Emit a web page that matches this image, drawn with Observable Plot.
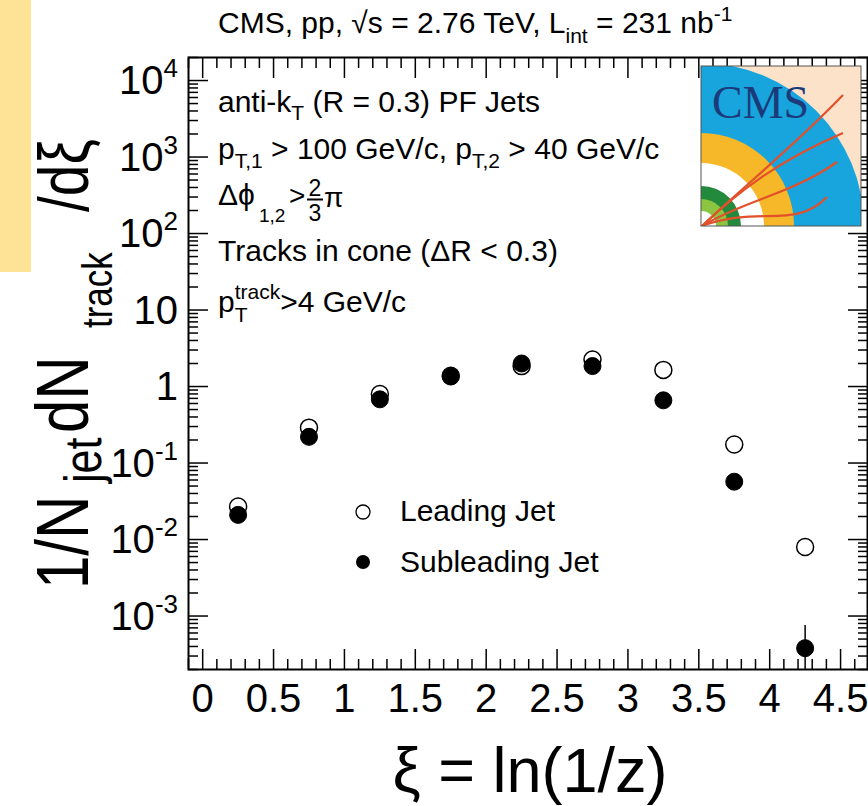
<!DOCTYPE html>
<html><head><meta charset="utf-8">
<script src="https://cdn.jsdelivr.net/npm/d3@7"></script>
<script src="https://cdn.jsdelivr.net/npm/@observablehq/plot@0.6"></script>
<style>
html,body{margin:0;padding:0;background:#fff;}
#wrap{position:relative;width:868px;height:806px;overflow:hidden;}
</style></head><body><div id="wrap"></div>
<script>
// ---- data ----
const xi = [0.25, 0.75, 1.25, 1.75, 2.25, 2.75, 3.25, 3.75, 4.25];
const leadingJet = [0.027, 0.29, 0.80, 1.38, 1.85, 2.25, 1.65, 0.175, 0.0080];
const subleadingJet = [0.021, 0.22, 0.68, 1.35, 2.0, 1.85, 0.66, 0.057, 0.00038];
const subleadingErr = [0.001, 0.004, 0.01, 0.02, 0.03, 0.03, 0.012, 0.003, 0.00037];
const seriesNames = ["Leading Jet", "Subleading Jet"];
const xMajorTicks = [0, 0.5, 1, 1.5, 2, 2.5, 3, 3.5, 4, 4.5];
const xTickLabels = ["0", "0.5", "1", "1.5", "2", "2.5", "3", "3.5", "4", "4.5"];
const yDecadeExponents = [-3, -2, -1, 0, 1, 2, 3, 4];

const FONT = "Liberation Sans, Arial, Helvetica, sans-serif";
const X_DOMAIN = [-0.1, 4.69], Y_DOMAIN = [2e-4, 2e4];

const xMinor = d3.range(-0.1, 4.69, 0.1).map(v => +v.toFixed(2))
  .filter(v => Math.abs(v * 2 - Math.round(v * 2)) > 1e-6);
const yMajor = yDecadeExponents.map(e => Math.pow(10, e));
const yMinor = [];
for (let e = -4; e <= 4; e++) for (let k = 2; k <= 9; k++) {
  const v = k * Math.pow(10, e);
  if (v >= Y_DOMAIN[0] * 0.999 && v <= Y_DOMAIN[1] * 1.001) yMinor.push(v);
}

const lead = xi.map((x, i) => ({x, y: leadingJet[i]}));
const sub = xi.map((x, i) => ({x, y: subleadingJet[i], e: subleadingErr[i]}));
const tk = {stroke: "black", strokeWidth: 1.5, fill: "none"};

const plot = Plot.plot({
  width: 868, height: 806,
  marginLeft: 188, marginRight: 1, marginTop: 57, marginBottom: 137,
  style: {fontFamily: FONT, background: "white", color: "black"},
  x: {domain: X_DOMAIN},
  y: {type: "log", domain: Y_DOMAIN},
  marks: [
    Plot.ruleX(sub, {x: "x", y1: d => Math.max(d.y - d.e, 1e-6), y2: d => d.y + d.e, stroke: "black", strokeWidth: 1.5, clip: true}),
    Plot.dot(lead, {x: "x", y: "y", r: 8.5, fill: "white", stroke: "black", strokeWidth: 1.5}),
    Plot.dot(sub, {x: "x", y: "y", r: 8.5, fill: "black", stroke: "black", strokeWidth: 1}),
    Plot.axisX(xMajorTicks, {anchor: "bottom", tickSize: -20, ...tk}),
    Plot.axisX(xMajorTicks, {anchor: "top", tickSize: -20, ...tk}),
    Plot.axisX(xMinor, {anchor: "bottom", tickSize: -10, ...tk}),
    Plot.axisX(xMinor, {anchor: "top", tickSize: -10, ...tk}),
    Plot.axisY(yMajor, {anchor: "left", tickSize: -20, ...tk}),
    Plot.axisY(yMajor, {anchor: "right", tickSize: -20, ...tk}),
    Plot.axisY(yMinor, {anchor: "left", tickSize: -10, ...tk}),
    Plot.axisY(yMinor, {anchor: "right", tickSize: -10, ...tk}),
    Plot.axisX(xMajorTicks, {anchor: "bottom", tickSize: 0, tickPadding: 14, fontSize: 40, label: null,
      tickFormat: d => xTickLabels[xMajorTicks.indexOf(d)]}),
    Plot.frame({stroke: "black", strokeWidth: 2})
  ]
});
document.getElementById("wrap").appendChild(plot);

const svg = d3.select(plot);
const ys = plot.scale("y");

// background band (top-left)
svg.insert("rect", ":first-child").attr("x", 0).attr("y", 0).attr("width", 31).attr("height", 272).attr("fill", "#fee396");

const g = svg.append("g").attr("font-family", FONT).attr("fill", "black").attr("text-anchor", "start");

function rich(parent, x, y, size, parts, anchor = "start") {
  const t = parent.append("text").attr("x", x).attr("y", y).attr("font-size", size).attr("text-anchor", anchor);
  let cur = 0;
  for (const p of parts) {
    const s = t.append("tspan").text(p.t);
    const off = p.dy || 0;
    if (off - cur !== 0) s.attr("dy", off - cur);
    cur = off;
    if (p.size) s.attr("font-size", p.size);
    if (p.x !== undefined) s.attr("x", p.x);
    if (p.dx) s.attr("dx", p.dx);
  }
  return t;
}
function textWidth(str, size) {
  const t = g.append("text").attr("font-size", size).text(str);
  const w = t.node().getComputedTextLength();
  t.remove();
  return w;
}
function put(parent, x, y, size, str, anchor = "start") {
  return parent.append("text").attr("x", x).attr("y", y).attr("font-size", size).attr("text-anchor", anchor).text(str);
}

// y tick labels (10^n)
for (const e of yDecadeExponents) {
  const yy = ys.apply(Math.pow(10, e)) + 14;
  if (e === 0) rich(g, 178, yy, 40, [{t: "1"}], "end");
  else if (e === 1) rich(g, 178, yy, 40, [{t: "10"}], "end");
  else rich(g, 178, yy, 40, [{t: "10"}, {t: String(e), size: 26, dy: -17}], "end");
}

// header
rich(g, 218, 33, 30, [
  {t: "CMS, pp, √s = 2.76 TeV, L"}, {t: "int", size: 21, dy: 10}, {t: " = 231 nb"}, {t: "-1", size: 21, dy: -12}
]);

// annotations
rich(g, 218, 112, 30, [{t: "anti-k"}, {t: "T", size: 21, dy: 8}, {t: " (R = 0.3) PF Jets"}]);
rich(g, 218, 159, 30, [{t: "p"}, {t: "T,1", size: 21, dy: 9}, {t: " > 100 GeV/c, p"}, {t: "T,2", size: 21, dy: 9}, {t: " > 40 GeV/c"}]);
put(g, 218, 205, 30, "Δϕ");
put(g, 259, 222, 19, "1,2");
put(g, 289, 205, 28, ">");
put(g, 315, 196, 23, "2", "middle");
g.append("line").attr("x1", 307).attr("x2", 323).attr("y1", 199.5).attr("y2", 199.5).attr("stroke", "black").attr("stroke-width", 2);
put(g, 315, 221, 23, "3", "middle");
put(g, 324, 207, 28, "π");
rich(g, 218, 261, 30, [{t: "Tracks in cone (ΔR < 0.3)"}]);
const pw = textWidth("p", 30);
rich(g, 218, 312, 30, [{t: "p"}, {t: "T", size: 21, dy: 10}, {t: "track", size: 21, dy: -13, x: 218 + pw}, {t: ">4 GeV/c", dy: 0}]);

// legend
const lg = svg.append("g").attr("font-family", FONT).attr("text-anchor", "start");
lg.append("circle").attr("cx", 363).attr("cy", 512).attr("r", 7).attr("fill", "white").attr("stroke", "black").attr("stroke-width", 1.3);
lg.append("circle").attr("cx", 363).attr("cy", 562).attr("r", 7).attr("fill", "black");
put(lg, 400, 521, 30, seriesNames[0]);
put(lg, 400, 572, 30, seriesNames[1]);

// axis titles
rich(g, 530, 792, 63, [{t: "ξ = ln(1/z)"}], "middle");
const yt = g.append("g").attr("transform", "translate(88,589) rotate(-90) scale(1,1.22)").attr("text-anchor", "start");
[["1/N", 0, 0, 60], ["jet", 106, 10.5, 43], ["dN", 156, 0, 60], ["track", 261, 19.5, 35], ["/dξ", 377, 0, 57]]
  .forEach(([s, x, y, f]) => put(yt, x, y, f, s));

// CMS logo
const L = {x: 701, y: 66, w: 160, h: 160};
const defs = svg.append("defs");
defs.append("clipPath").attr("id", "logoclip").append("rect").attr("x", L.x).attr("y", L.y).attr("width", L.w).attr("height", L.h);
const lo = svg.append("g").attr("clip-path", "url(#logoclip)");
const cx = L.x, cy = L.y + L.h;
lo.append("rect").attr("x", L.x).attr("y", L.y).attr("width", L.w).attr("height", L.h).attr("fill", "#fce2c8");
[[163, "#18a4dc"], [93, "#f6b828"], [63, "#ffffff"], [40, "#23893c"], [27, "#8cc540"], [15, "#ffffff"]].forEach(([r, c]) =>
  lo.append("circle").attr("cx", cx).attr("cy", cy).attr("r", r).attr("fill", c));
const red = ["M702,226 C745,185 790,150 843,95", "M702,226 C740,190 780,160 843,133", "M702,226 C745,200 790,195 837,162", "M702,226 C760,205 795,230 827,197"];
red.forEach(d => lo.append("path").attr("d", d).attr("fill", "none").attr("stroke", "#e2502c").attr("stroke-width", 2.2));
lo.append("text").attr("x", 712).attr("y", 118).attr("text-anchor", "start").attr("font-family", "Liberation Serif, DejaVu Serif, serif").attr("font-size", 46).attr("fill", "#1b3a7a").text("CMS");
svg.append("rect").attr("x", L.x).attr("y", L.y).attr("width", L.w).attr("height", L.h).attr("fill", "none").attr("stroke", "#555").attr("stroke-width", 1);
</script></body></html>
